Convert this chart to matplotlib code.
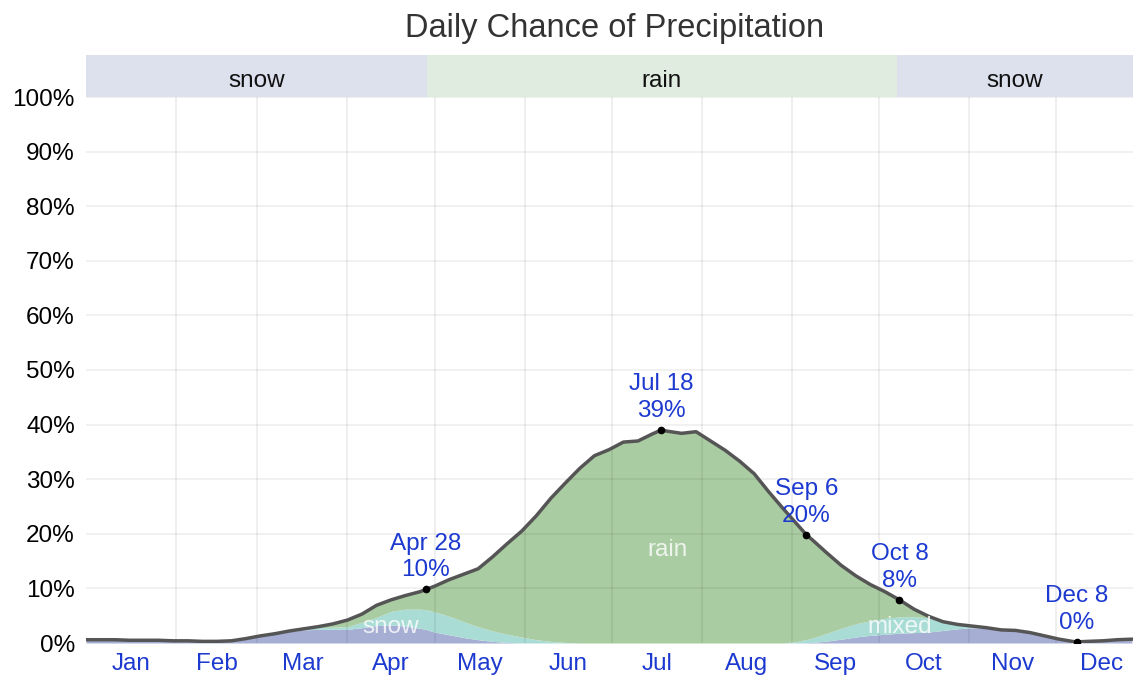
import numpy as np
import matplotlib
matplotlib.use('Agg')
import matplotlib.pyplot as plt

plt.rcParams['font.family'] = ['Liberation Sans', 'DejaVu Sans']

# day of year (0 = Jan 1) and chance of precipitation in %
days = [0, 5, 10, 15, 20, 25, 30, 35, 40, 45, 50, 55, 60, 65, 70, 75, 80, 85, 90, 95,
        100, 105, 110, 115, 117, 120, 125, 130, 135, 140, 145, 150, 155, 160, 165, 170,
        175, 180, 185, 190, 195, 198, 200, 205, 210, 215, 220, 225, 230, 235, 240, 245,
        248, 250, 255, 260, 265, 270, 275, 280, 285, 290, 295, 300, 305, 310, 315, 320,
        325, 330, 335, 340, 341, 345, 350, 355, 360]
total = [0.6, 0.6, 0.6, 0.5, 0.5, 0.5, 0.4, 0.4, 0.3, 0.3, 0.4, 0.8, 1.3, 1.7, 2.2, 2.6,
         3.0, 3.5, 4.2, 5.3, 6.9, 7.9, 8.7, 9.4, 9.8, 10.4, 11.6, 12.6, 13.6, 15.8, 18.2,
         20.5, 23.3, 26.5, 29.3, 32.0, 34.3, 35.4, 36.8, 37.0, 38.3, 39.0, 38.8, 38.4,
         38.7, 37.0, 35.3, 33.3, 31.0, 27.7, 24.6, 21.6, 19.8, 18.9, 16.5, 14.2, 12.3,
         10.7, 9.4, 7.9, 6.2, 4.9, 3.9, 3.4, 3.1, 2.8, 2.4, 2.3, 1.9, 1.3, 0.7, 0.25,
         0.2, 0.3, 0.4, 0.6, 0.7]
snow = [0.6, 0.6, 0.6, 0.5, 0.5, 0.5, 0.4, 0.4, 0.3, 0.3, 0.4, 0.8, 1.3, 1.7, 2.1, 2.4,
        2.5, 2.5, 2.5, 2.8, 3.2, 3.3, 3.1, 2.7, 2.5, 2.0, 1.5, 1.0, 0.6, 0.3, 0.1, 0.0,
        0.0, 0.0, 0.0, 0.0, 0.0, 0.0, 0.0, 0.0, 0.0, 0.0, 0.0, 0.0, 0.0, 0.0, 0.0, 0.0,
        0.0, 0.0, 0.0, 0.0, 0.05, 0.1, 0.35, 0.7, 1.1, 1.4, 1.6, 1.8, 1.9, 2.0, 2.3, 2.6,
        2.8, 2.7, 2.35, 2.3, 1.9, 1.3, 0.7, 0.25, 0.2, 0.3, 0.4, 0.6, 0.7]
mixed = [0.0, 0.0, 0.0, 0.0, 0.0, 0.0, 0.0, 0.0, 0.0, 0.0, 0.0, 0.0, 0.0, 0.0, 0.1, 0.2,
         0.3, 0.4, 0.5, 1.0, 1.5, 2.5, 3.1, 3.5, 3.6, 3.7, 3.4, 2.9, 2.4, 1.9, 1.5, 1.1,
         0.6, 0.3, 0.1, 0.0, 0.0, 0.0, 0.0, 0.0, 0.0, 0.0, 0.0, 0.0, 0.0, 0.0, 0.0, 0.0,
         0.0, 0.0, 0.0, 0.3, 0.6, 0.8, 1.4, 2.0, 2.4, 2.7, 2.9, 3.0, 2.9, 2.6, 1.6, 0.8,
         0.3, 0.1, 0.05, 0.0, 0.0, 0.0, 0.0, 0.0, 0.0, 0.0, 0.0, 0.0, 0.0]

month_names = ['Jan', 'Feb', 'Mar', 'Apr', 'May', 'Jun', 'Jul', 'Aug', 'Sep', 'Oct', 'Nov', 'Dec']
month_starts = [0, 31, 59, 90, 120, 151, 181, 212, 243, 273, 304, 334, 365]

# highlighted points
hl_days = [117, 198, 248, 280, 341]
hl_dates = ['Apr 28', 'Jul 18', 'Sep 6', 'Oct 8', 'Dec 8']
hl_vals = [10, 39, 20, 8, 0]

# top band: precipitation type
band_edges = [0, 117.5, 279, 360.4]
band_types = ['snow', 'rain', 'snow']

days = np.array(days)
total = np.array(total)
snow = np.array(snow)
mixed = np.array(mixed)

c_snow = '#a6aed4'
c_mixed = '#aadcd6'
c_rain = '#aacca2'
c_blue = '#1d3ad0'
xmax = 360.4

fig = plt.figure(figsize=(11.34, 6.77), dpi=100)
ax = fig.add_axes([86/1134, 34/677, 1047/1134, 546/677])

ax.fill_between(days, 0, snow, color=c_snow, lw=0)
ax.fill_between(days, snow, snow + mixed, color=c_mixed, lw=0)
ax.fill_between(days, snow + mixed, np.maximum(total, snow + mixed), color=c_rain, lw=0)
ax.plot(days, total, color='#555555', lw=2.5, zorder=4)

# grid on top of the fills
for m in month_starts[1:-1]:
    ax.axvline(m, color='black', alpha=0.07, lw=1.3, zorder=3)
for v in range(10, 101, 10):
    ax.axhline(v, color='black', alpha=0.06, lw=1.3, zorder=3)

for d, date, v in zip(hl_days, hl_dates, hl_vals):
    yv = np.interp(d, days, total)
    ax.plot(d, yv, 'o', color='black', ms=4.5, zorder=5)
    ax.annotate(f'{date}\n{v}%', (d, yv), xytext=(0, 6), textcoords='offset points',
                ha='center', va='bottom', color=c_blue, fontsize=17.5, linespacing=1.25,
                zorder=6)

ax.text(105, 2.9, 'snow', color='white', alpha=0.8, fontsize=17.5, ha='center', va='center', zorder=4)
ax.text(200, 17, 'rain', color='white', alpha=0.8, fontsize=17.5, ha='center', va='center', zorder=4)
ax.text(280, 2.9, 'mixed', color='white', alpha=0.8, fontsize=17.5, ha='center', va='center', zorder=4)

ax.set_xlim(0, xmax)
ax.set_ylim(0, 100)
ax.set_yticks(range(0, 101, 10))
ax.set_yticklabels([f'{v}%' for v in range(0, 101, 10)], fontsize=17.5)
mids = [(month_starts[i] + month_starts[i + 1]) / 2 for i in range(12)]
ax.set_xticks(mids)
ax.set_xticklabels(month_names, fontsize=17.5, color=c_blue)
ax.tick_params(length=0, pad=7)
ax.tick_params(axis='y', pad=8)
for s in ax.spines.values():
    s.set_visible(False)

# band axis
bx = fig.add_axes([86/1134, 580/677, 1047/1134, 42/677])
for i, t in enumerate(band_types):
    col = '#e0ecdf' if t == 'rain' else '#dde1ee'
    bx.axvspan(band_edges[i], band_edges[i + 1], color=col, lw=0)
    bx.text((band_edges[i] + band_edges[i + 1]) / 2, 0.38, t, ha='center', va='center',
            fontsize=17.5, color='#111111')
bx.set_xlim(0, xmax)
bx.set_ylim(0, 1)
bx.axis('off')

fig.text(615/1134, 1 - 29/677, 'Daily Chance of Precipitation', ha='center', va='center',
         fontsize=23.5, color='#333333')

fig.savefig('out.png', dpi=100)
